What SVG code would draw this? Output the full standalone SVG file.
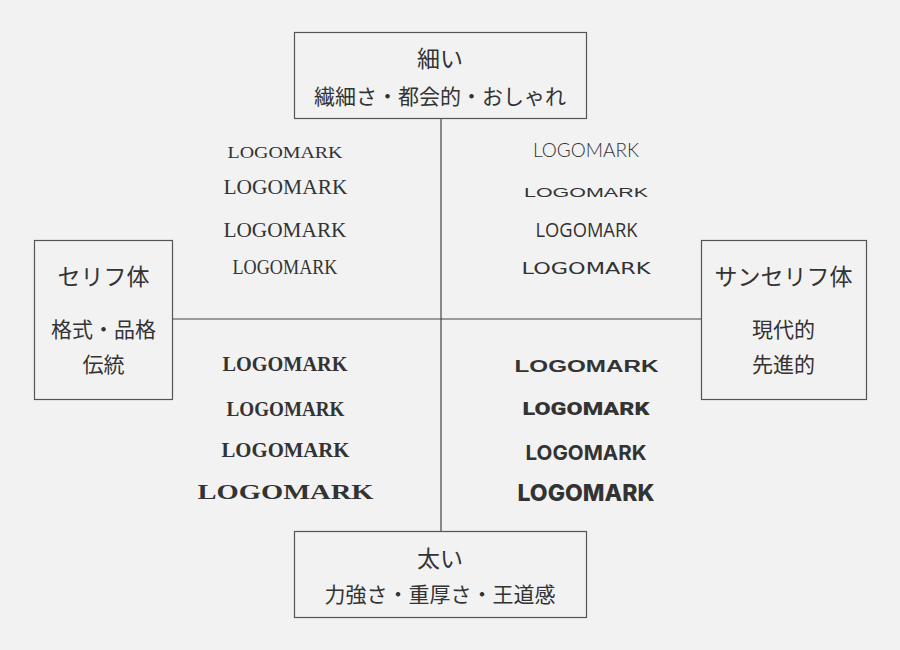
<svg xmlns="http://www.w3.org/2000/svg" width="900" height="650" viewBox="0 0 900 650">
<style>
.bg{fill:#f2f2f2}
.box{fill:#f2f2f2;stroke:#555;stroke-width:1.2}
.ln{stroke:#444;stroke-width:1.2;fill:none}
.jt{font-family:"Noto Sans CJK JP","Noto Sans",sans-serif;fill:#333;text-anchor:middle}
.t{font-size:23px}
.s{font-size:21px}
.lg{fill:#333;text-anchor:middle}
.sf{font-family:"Liberation Serif","Times New Roman",serif}
.ss{font-family:"Liberation Sans",Arial,sans-serif}
</style>
<rect class="bg" x="0" y="0" width="900" height="650"/>
<g id="connectors">
<line class="ln" x1="441" y1="118" x2="441" y2="531"/>
<line class="ln" x1="172" y1="319" x2="701" y2="319"/>
</g>
<g id="node-thin">
<rect class="box" x="294.5" y="32.5" width="292" height="86"/>
<text class="jt t" x="440" y="67">細い</text>
<text class="jt s" x="440" y="104">繊細さ・都会的・おしゃれ</text>
</g>
<g id="node-serif">
<rect class="box" x="34.5" y="240.5" width="138" height="159"/>
<text class="jt t" x="103.5" y="285">セリフ体</text>
<text class="jt s" x="103.5" y="337">格式・品格</text>
<text class="jt s" x="103.5" y="372">伝統</text>
</g>
<g id="node-sans">
<rect class="box" x="701.5" y="240.5" width="165" height="159"/>
<text class="jt t" x="783.5" y="285">サンセリフ体</text>
<text class="jt s" x="783.5" y="337">現代的</text>
<text class="jt s" x="783.5" y="372">先進的</text>
</g>
<g id="node-bold">
<rect class="box" x="294.5" y="531.5" width="292" height="86"/>
<text class="jt t" x="440" y="567">太い</text>
<text class="jt s" x="440" y="602">力強さ・重厚さ・王道感</text>
</g>
<g id="logos-serif-thin">
<text class="lg sf" x="285" y="158" font-size="17" textLength="115" lengthAdjust="spacingAndGlyphs">LOGOMARK</text>
<text class="lg sf" x="285.5" y="194" font-size="21" textLength="124" lengthAdjust="spacingAndGlyphs">LOGOMARK</text>
<text class="lg sf" x="285" y="237" font-size="22" textLength="123" lengthAdjust="spacingAndGlyphs">LOGOMARK</text>
<text class="lg sf" x="285" y="274" font-size="21" textLength="105" lengthAdjust="spacingAndGlyphs">LOGOMARK</text>
</g>
<g id="logos-sans-thin">
<text class="lg" x="586" y="157" font-family="Lato,'Liberation Sans',sans-serif" font-weight="300" font-size="19.5" textLength="106" lengthAdjust="spacingAndGlyphs">LOGOMARK</text>
<text class="lg ss" x="586" y="197" font-size="12.5" textLength="124" lengthAdjust="spacingAndGlyphs">LOGOMARK</text>
<text class="lg" x="586.5" y="237" font-family="'Open Sans','Liberation Sans',sans-serif" font-size="20" textLength="102" lengthAdjust="spacingAndGlyphs">LOGOMARK</text>
<text class="lg" x="586" y="274" font-family="'DejaVu Sans',sans-serif" font-size="15.4" textLength="129" lengthAdjust="spacingAndGlyphs">LOGOMARK</text>
</g>
<g id="logos-serif-bold">
<text class="lg sf" x="285" y="371" font-size="21" font-weight="bold" textLength="125" lengthAdjust="spacingAndGlyphs">LOGOMARK</text>
<text class="lg sf" x="285.5" y="416" font-size="21" font-weight="bold" textLength="118" lengthAdjust="spacingAndGlyphs">LOGOMARK</text>
<text class="lg sf" x="285.5" y="457" font-size="22" font-weight="bold" textLength="128" lengthAdjust="spacingAndGlyphs">LOGOMARK</text>
<text class="lg sf" x="285.5" y="499" font-size="21" font-weight="bold" textLength="176" lengthAdjust="spacingAndGlyphs">LOGOMARK</text>
</g>
<g id="logos-sans-bold">
<text class="lg ss" x="586.5" y="372" font-size="16.8" font-weight="bold" textLength="144" lengthAdjust="spacingAndGlyphs">LOGOMARK</text>
<text class="lg" x="586" y="415" font-family="Roboto,'Liberation Sans',sans-serif" font-weight="900" font-size="18" textLength="127" lengthAdjust="spacingAndGlyphs">LOGOMARK</text>
<text class="lg" x="586" y="460" font-family="Inter,'Liberation Sans',sans-serif" font-weight="bold" font-size="20.5" textLength="121" lengthAdjust="spacingAndGlyphs">LOGOMARK</text>
<text class="lg" x="586" y="501" font-family="Inter,'Liberation Sans',sans-serif" font-weight="800" font-size="23" textLength="137" lengthAdjust="spacingAndGlyphs">LOGOMARK</text>
</g>
</svg>
